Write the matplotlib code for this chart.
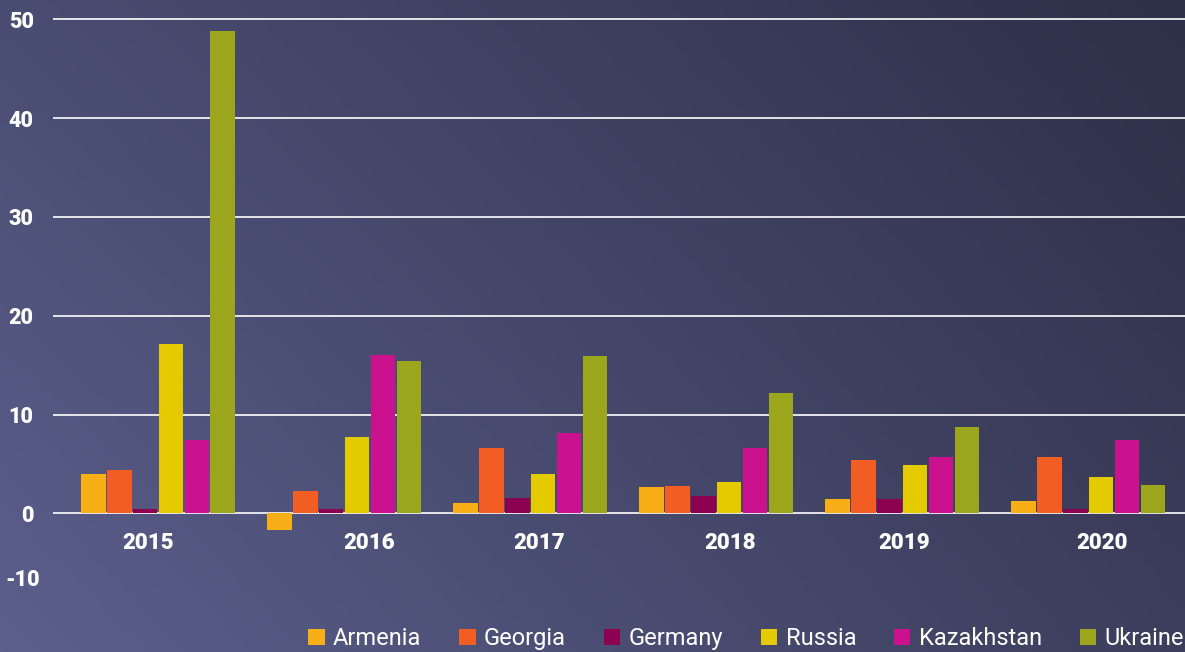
import numpy as np
import matplotlib
matplotlib.use('Agg')
import matplotlib.pyplot as plt

# dados
years = ['2015', '2016', '2017', '2018', '2019', '2020']
countries = ['Armenia', 'Georgia', 'Germany', 'Russia', 'Kazakhstan', 'Ukraine']
armenia = [4.0, -1.7, 1.05, 2.65, 1.45, 1.25]
georgia = [4.4, 2.25, 6.6, 2.75, 5.4, 5.7]
germany = [0.45, 0.45, 1.55, 1.75, 1.45, 0.45]
russia = [17.1, 7.7, 4.0, 3.2, 4.9, 3.7]
kazakhstan = [7.4, 16.0, 8.1, 6.6, 5.7, 7.4]
ukraine = [48.8, 15.4, 15.9, 12.2, 8.75, 2.9]
series = [armenia, georgia, germany, russia, kazakhstan, ukraine]
colors = ['#F8AE17', '#F15D22', '#8C0050', '#E3CB00', '#CC118E', '#9CA61C']

plt.rcParams['font.family'] = ['Roboto', 'DejaVu Sans']

fig = plt.figure(figsize=(11.85, 6.52), dpi=100)

# fundo em degrade
bg = fig.add_axes([0, 0, 1, 1], zorder=-10)
tl = np.array([0x4a, 0x4d, 0x72]) / 255
tr = np.array([0x2e, 0x2f, 0x48]) / 255
bl = np.array([0x5b, 0x5f, 0x8c]) / 255
br = np.array([0x3c, 0x3e, 0x5c]) / 255
u = np.linspace(0, 1, 200)[None, :, None]
v = np.linspace(0, 1, 120)[:, None, None]
img = (1 - v) * ((1 - u) * tl + u * tr) + v * ((1 - u) * bl + u * br)
bg.imshow(img, aspect='auto', extent=[0, 1, 0, 1])
bg.axis('off')

ax = fig.add_axes([53 / 1185, 1 - 538 / 652, 1 - 53 / 1185, (538 - 14.4) / 652])
ax.patch.set_alpha(0)

x = np.arange(len(years))
step = 0.139
width = 0.132
for i, (name, vals, c) in enumerate(zip(countries, series, colors)):
    ax.bar(x + (i - 2.5) * step, vals, width, color=c, label=name, zorder=3)

ax.set_xlim(-0.565, 5.52)
ax.set_ylim(-2.5, 50.5)
ax.set_yticks([0, 10, 20, 30, 40, 50])
ax.yaxis.grid(True, color='white', lw=1.2, zorder=1)
ax.tick_params(axis='y', length=0, pad=14, labelsize=15.5, labelcolor='white')
for t in ax.get_yticklabels():
    t.set_fontweight('heavy')
ax.text(-0.012, -6.75, '-10', transform=ax.get_yaxis_transform(), ha='right', va='center',
        color='white', fontsize=15.5, fontweight='heavy')

# rotulos dos anos deslocados como no original
label_pos = [-0.054, 1.134, 2.048, 3.075, 4.011, 5.075]
ax.set_xticks(label_pos)
ax.set_xticklabels(years)
ax.tick_params(axis='x', length=0, pad=-4, labelsize=16, labelcolor='white')
for t in ax.get_xticklabels():
    t.set_fontweight('heavy')

for s in ax.spines.values():
    s.set_visible(False)

leg = fig.legend(loc='lower right', ncol=6, frameon=False, bbox_to_anchor=(1.017, -0.03),
                 handlelength=0.7, handleheight=0.7, handletextpad=0.35, columnspacing=1.6,
                 fontsize=17, labelcolor='white')

fig.savefig('out.png', dpi=100)
